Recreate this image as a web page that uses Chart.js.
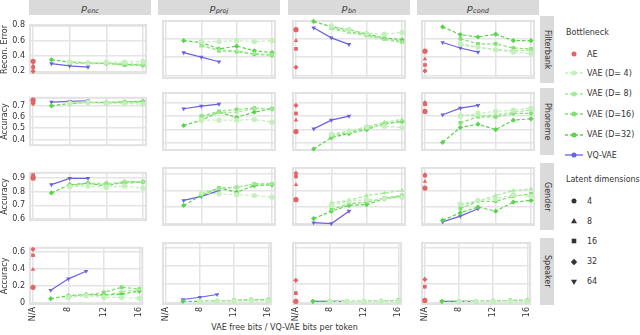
<!DOCTYPE html>
<html>
<head>
<meta charset="utf-8">
<script src="https://cdn.jsdelivr.net/npm/chart.js@4.4.0/dist/chart.umd.min.js"></script>
<style>
body { margin: 0; width: 640px; height: 335px; position: relative; background: #fff; overflow: hidden;
  font-family: "DejaVu Sans", sans-serif; font-size: 8px; color: #333; }
canvas { position: absolute; }
.strip { position: absolute; background: #dadada; display: flex; align-items: center; justify-content: center; }
.strip i { font-size: 9.5px; }
.strip sub { font-size: 6.5px; font-style: italic; vertical-align: -2px; line-height: 0; }
.rowstrip { writing-mode: vertical-rl; }
.lg { position: absolute; left: 565px; height: 12px; display: flex; align-items: center; white-space: pre; }
.lg svg { width: 20px; height: 12px; margin-right: 2px; }
.lgtitle { position: absolute; left: 566px; white-space: nowrap; }
#xtitle { position: absolute; top: 323px; left: 29px; width: 511px; text-align: center; }
</style>
</head>
<body>
<div id="xtitle">VAE free bits / VQ-VAE bits per token</div>
<script>
// facets
const columns = ['enc', 'proj', 'bn', 'cond'];
const tasks = ['Filterbank', 'Phoneme', 'Gender', 'Speaker'];
const yTitles = ['Recon. Error', 'Accuracy', 'Accuracy', 'Accuracy'];
const yTicks = [[0.2, 0.4, 0.6, 0.8], [0.4, 0.5, 0.6, 0.7], [0.6, 0.7, 0.8, 0.9], [0, 0.2, 0.4, 0.6]];
const xTicks = [4, 8, 12, 16];   // 4 = N/A (AE)
const vaeBits = [8, 10, 12, 14, 16];
const vae32Bits = [6, 8, 10, 12, 14, 16];
const vqBits = [6, 8, 10];
const aeDims = [4, 8, 16, 32];

// one inner array per column: enc, proj, bn, cond
const filterbankVae4  = [[0.32, 0.31, 0.32, 0.32, 0.33], [0.57, 0.57, 0.58, 0.57, 0.58], [0.74, 0.70, 0.66, 0.65, 0.67], [0.55, 0.51, 0.48, 0.455, 0.44]];
const filterbankVae8  = [[0.32, 0.30, 0.30, 0.30, 0.29], [0.52, 0.48, 0.47, 0.44, 0.43], [0.71, 0.67, 0.63, 0.59, 0.56], [0.535, 0.505, 0.485, 0.47, 0.475]];
const filterbankVae16 = [[0.31, 0.30, 0.31, 0.28, 0.28], [0.53, 0.47, 0.46, 0.43, 0.42], [0.72, 0.68, 0.64, 0.60, 0.57], [0.60, 0.545, 0.545, 0.50, 0.49]];
const filterbankVae32 = [[0.35, 0.32, 0.31, 0.30, 0.29, 0.28], [0.58, 0.56, 0.49, 0.52, 0.47, 0.45], [0.79, 0.73, 0.70, 0.65, 0.61, 0.59], [0.73, 0.645, 0.62, 0.65, 0.58, 0.58]];
const filterbankVq    = [[0.30, 0.27, 0.255], [0.45, 0.40, 0.35], [0.72, 0.61, 0.54], [0.56, 0.50, 0.455]];
const filterbankAe    = [[0.33, 0.27, 0.25, 0.20], null, [0.70, 0.58, 0.49, 0.29], [0.465, 0.38, 0.315, 0.25]];

const phonemeVae4  = [[0.725, 0.73, 0.72, 0.72, 0.715], [0.57, 0.57, 0.57, 0.575, 0.555], [0.465, 0.49, 0.52, 0.525, 0.515], [0.60, 0.62, 0.635, 0.645, 0.66]];
const phonemeVae8  = [[0.73, 0.73, 0.73, 0.73, 0.73], [0.59, 0.625, 0.63, 0.655, 0.655], [0.46, 0.49, 0.52, 0.555, 0.575], [0.61, 0.60, 0.61, 0.63, 0.645]];
const phonemeVae16 = [[0.725, 0.73, 0.725, 0.735, 0.735], [0.60, 0.635, 0.65, 0.66, 0.655], [0.45, 0.48, 0.51, 0.54, 0.56], [0.55, 0.595, 0.595, 0.62, 0.62]];
const phonemeVae32 = [[0.70, 0.72, 0.73, 0.73, 0.735, 0.74], [0.53, 0.57, 0.63, 0.59, 0.63, 0.655], [0.355, 0.44, 0.47, 0.50, 0.545, 0.56], [0.405, 0.515, 0.54, 0.50, 0.57, 0.58]];
const phonemeVq    = [[0.733, 0.74, 0.745], [0.655, 0.675, 0.69], [0.505, 0.57, 0.60], [0.61, 0.66, 0.68]];
const phonemeAe    = [[0.75, 0.74, 0.73, 0.72], null, [0.485, 0.57, 0.62, 0.68], [0.635, 0.685, 0.69, 0.70]];

const genderVae4  = [[0.835, 0.84, 0.83, 0.84, 0.825], [0.785, 0.78, 0.775, 0.77, 0.76], [0.71, 0.735, 0.745, 0.75, 0.76], [0.72, 0.74, 0.75, 0.775, 0.765]];
const genderVae8  = [[0.84, 0.855, 0.85, 0.875, 0.87], [0.78, 0.81, 0.82, 0.84, 0.84], [0.725, 0.74, 0.77, 0.785, 0.80], [0.71, 0.735, 0.77, 0.80, 0.81]];
const genderVae16 = [[0.845, 0.86, 0.86, 0.86, 0.87], [0.78, 0.815, 0.82, 0.84, 0.84], [0.685, 0.72, 0.73, 0.755, 0.77], [0.69, 0.735, 0.735, 0.765, 0.78]];
const genderVae32 = [[0.79, 0.85, 0.86, 0.84, 0.87, 0.87], [0.71, 0.77, 0.815, 0.79, 0.83, 0.835], [0.63, 0.675, 0.71, 0.715, 0.75, 0.765], [0.62, 0.665, 0.70, 0.675, 0.73, 0.74]];
const genderVq    = [[0.85, 0.895, 0.895], [0.74, 0.765, 0.80], [0.605, 0.60, 0.675], [0.61, 0.645, 0.69]];
const genderAe    = [[0.90, 0.89, 0.92, 0.91], null, [0.745, 0.835, 0.885, 0.905], [0.815, 0.855, 0.89, 0.895]];

const speakerVae4  = [[0.06, 0.08, 0.06, 0.06, 0.05], [0.01, 0.01, 0.01, 0.015, 0.015], [0.01, 0.01, 0.01, 0.01, 0.01], [0.01, 0.01, 0.01, 0.01, 0.01]];
const speakerVae8  = [[0.075, 0.09, 0.08, 0.13, 0.15], [0.01, 0.015, 0.02, 0.02, 0.02], [0.01, 0.01, 0.01, 0.015, 0.015], [0.01, 0.01, 0.01, 0.015, 0.015]];
const speakerVae16 = [[0.07, 0.09, 0.12, 0.18, 0.16], [0.01, 0.015, 0.02, 0.03, 0.03], [0.01, 0.01, 0.01, 0.015, 0.02], [0.01, 0.01, 0.015, 0.02, 0.02]];
const speakerVae32 = [[0.045, 0.08, 0.095, 0.09, 0.10, 0.135], [0.01, 0.01, 0.015, 0.02, 0.025, 0.025], [0.01, 0.01, 0.01, 0.01, 0.015, 0.02], [0.01, 0.01, 0.01, 0.015, 0.02, 0.02]];
const speakerVq    = [[0.145, 0.28, 0.37], [0.03, 0.055, 0.085], [0.01, 0.01, 0.01], [0.01, 0.01, 0.01]];
const speakerAe    = [[0.18, 0.39, 0.56, 0.63], null, [0.01, 0.01, 0.10, 0.24], [0.02, 0.02, 0.17, 0.25]];

const taskData = [
  [filterbankVae4, filterbankVae8, filterbankVae16, filterbankVae32, filterbankVq, filterbankAe],
  [phonemeVae4, phonemeVae8, phonemeVae16, phonemeVae32, phonemeVq, phonemeAe],
  [genderVae4, genderVae8, genderVae16, genderVae32, genderVq, genderAe],
  [speakerVae4, speakerVae8, speakerVae16, speakerVae32, speakerVq, speakerAe]
];

// layout
const panelLefts = [29, 158, 288, 417];
const panelTops = [16, 88, 163, 238];
const panelW = 122, panelH = 67;
const yRanges = [[0.162, 0.805], [0.34, 0.78], [0.585, 0.943], [-0.03, 0.66]];
const font = { family: '"DejaVu Sans", sans-serif', size: 8 };
const gridColor = '#e4e4e4';

const series = [
  { label: 'VAE (D= 4)', color: '#c3f0bb', shape: 'circle', bits: vaeBits },
  { label: 'VAE (D= 8)', color: '#a4ea98', shape: 'triangle', bits: vaeBits },
  { label: 'VAE (D=16)', color: '#80e070', shape: 'rect', bits: vaeBits },
  { label: 'VAE (D=32)', color: '#5ad44a', shape: 'rectRot', bits: vae32Bits },
  { label: 'VQ-VAE', color: '#6a62e0', shape: 'triangle', rot: 180, bits: vqBits, solid: true }
];
const aeColor = '#e26464';
const dimShapes = ['circle', 'triangle', 'rect', 'rectRot'];

// light grey frame round each panel
const frame = {
  id: 'frame',
  beforeDatasetsDraw(chart) {
    const a = chart.chartArea, ctx = chart.ctx;
    ctx.save();
    ctx.strokeStyle = '#e2e2e2';
    ctx.lineWidth = 2;
    ctx.strokeRect(a.left + 1, a.top + 1, a.width - 2, a.height - 2);
    ctx.restore();
  }
};

tasks.forEach(function (task, r) {
  columns.forEach(function (col, c) {
    const first = c === 0, last = r === 3;
    const cv = document.createElement('canvas');
    const w = panelW + (first ? panelLefts[0] : 0);
    const h = panelH + (last ? 18 : 0);
    cv.width = w; cv.height = h;
    cv.style.left = (first ? 0 : panelLefts[c]) + 'px';
    cv.style.top = panelTops[r] + 'px';
    document.body.appendChild(cv);

    const vals = taskData[r];
    const datasets = series.map(function (s, k) {
      return {
        data: vals[k][c].map((v, i) => ({ x: s.bits[i], y: v })),
        borderColor: s.color, backgroundColor: s.color,
        borderWidth: 1.2, borderDash: s.solid ? [] : [3.5, 2],
        pointStyle: s.shape, pointRotation: s.rot || 0, pointRadius: 2.6,
        pointBorderWidth: 0, clip: 4
      };
    });
    if (vals[5][c]) {
      datasets.push({
        data: vals[5][c].map((v, i) => ({ x: 4, y: v })),
        showLine: false, backgroundColor: aeColor, borderColor: aeColor,
        pointStyle: dimShapes, pointRadius: 2.6, pointBorderWidth: 0, clip: 4
      });
    }

    new Chart(cv, {
      type: 'line',
      data: { datasets: datasets },
      plugins: [frame],
      options: {
        responsive: false, animation: false, devicePixelRatio: 1,
        layout: { padding: 0 },
        plugins: { legend: { display: false }, tooltip: { enabled: false } },
        scales: {
          x: {
            type: 'linear', min: 3.55, max: 16.45,
            afterBuildTicks: s => { s.ticks = xTicks.map(v => ({ value: v })); },
            afterFit: s => { s.height = last ? 18 : 0; },
            grid: { color: gridColor, lineWidth: 1.5, drawTicks: false },
            border: { display: false },
            ticks: {
              display: last, minRotation: 90, maxRotation: 90, padding: 2, autoSkip: false,
              font: font, color: '#333', callback: v => v === 4 ? 'N/A' : String(v)
            }
          },
          y: {
            min: yRanges[r][0], max: yRanges[r][1],
            afterBuildTicks: s => { s.ticks = yTicks[r].map(v => ({ value: v })); },
            afterFit: s => { s.width = first ? panelLefts[0] : 0; },
            grid: { color: gridColor, lineWidth: 1.5, drawTicks: false },
            border: { display: false },
            ticks: { display: first, padding: 4, font: font, color: '#333', callback: v => String(v) },
            title: { display: first, text: yTitles[r], padding: 0, font: font, color: '#333' }
          }
        }
      }
    });
  });
});

// facet strips
columns.forEach(function (col, c) {
  const d = document.createElement('div');
  d.className = 'strip';
  d.style.cssText = 'left:' + panelLefts[c] + 'px;top:0;width:' + panelW + 'px;height:15px';
  d.innerHTML = '<span><i>p</i><sub>' + col + '</sub></span>';
  document.body.appendChild(d);
});
tasks.forEach(function (task, r) {
  const d = document.createElement('div');
  d.className = 'strip rowstrip';
  d.style.cssText = 'left:540px;top:' + panelTops[r] + 'px;width:14px;height:' + panelH + 'px';
  d.textContent = task;
  document.body.appendChild(d);
});

// legend
function marker(shape, x, y, color) {
  if (shape === 'circle') return '<circle cx="' + x + '" cy="' + y + '" r="2.5" fill="' + color + '"/>';
  if (shape === 'rect') return '<rect x="' + (x - 2.3) + '" y="' + (y - 2.3) + '" width="4.6" height="4.6" fill="' + color + '"/>';
  if (shape === 'rectRot') return '<polygon points="' + x + ',' + (y - 3.2) + ' ' + (x + 3.2) + ',' + y + ' ' + x + ',' + (y + 3.2) + ' ' + (x - 3.2) + ',' + y + '" fill="' + color + '"/>';
  if (shape === 'down') return '<polygon points="' + (x - 3) + ',' + (y - 2.2) + ' ' + (x + 3) + ',' + (y - 2.2) + ' ' + x + ',' + (y + 3) + '" fill="' + color + '"/>';
  return '<polygon points="' + x + ',' + (y - 3) + ' ' + (x + 3) + ',' + (y + 2.2) + ' ' + (x - 3) + ',' + (y + 2.2) + '" fill="' + color + '"/>';
}
function legendRow(y, label, svg) {
  const d = document.createElement('div');
  d.className = 'lg';
  d.style.top = (y - 6) + 'px';
  d.innerHTML = '<svg viewBox="0 0 20 12">' + svg + '</svg><span>' + label + '</span>';
  document.body.appendChild(d);
}
function legendTitle(y, text) {
  const d = document.createElement('div');
  d.className = 'lgtitle';
  d.style.top = (y - 5) + 'px';
  d.textContent = text;
  document.body.appendChild(d);
}
legendTitle(33, 'Bottleneck');
legendRow(54, 'AE', marker('circle', 9, 6, aeColor));
series.forEach(function (s, k) {
  const dash = s.solid ? '' : ' stroke-dasharray="3,2"';
  const line = '<line x1="0" y1="6" x2="18" y2="6" stroke="' + s.color + '" stroke-width="1.3"' + dash + '/>';
  legendRow(73 + k * 20.5, s.label, line + marker('circle', 9, 6, s.color));
});
legendTitle(180, 'Latent dimensions');
const legendDims = ['4', '8', '16', '32', '64'];
const legendShapes = ['circle', 'triangle', 'rect', 'rectRot', 'down'];
legendDims.forEach(function (dim, k) {
  legendRow(201 + k * 20.2, dim, marker(legendShapes[k], 9, 6, '#333'));
});
</script>
</body>
</html>
